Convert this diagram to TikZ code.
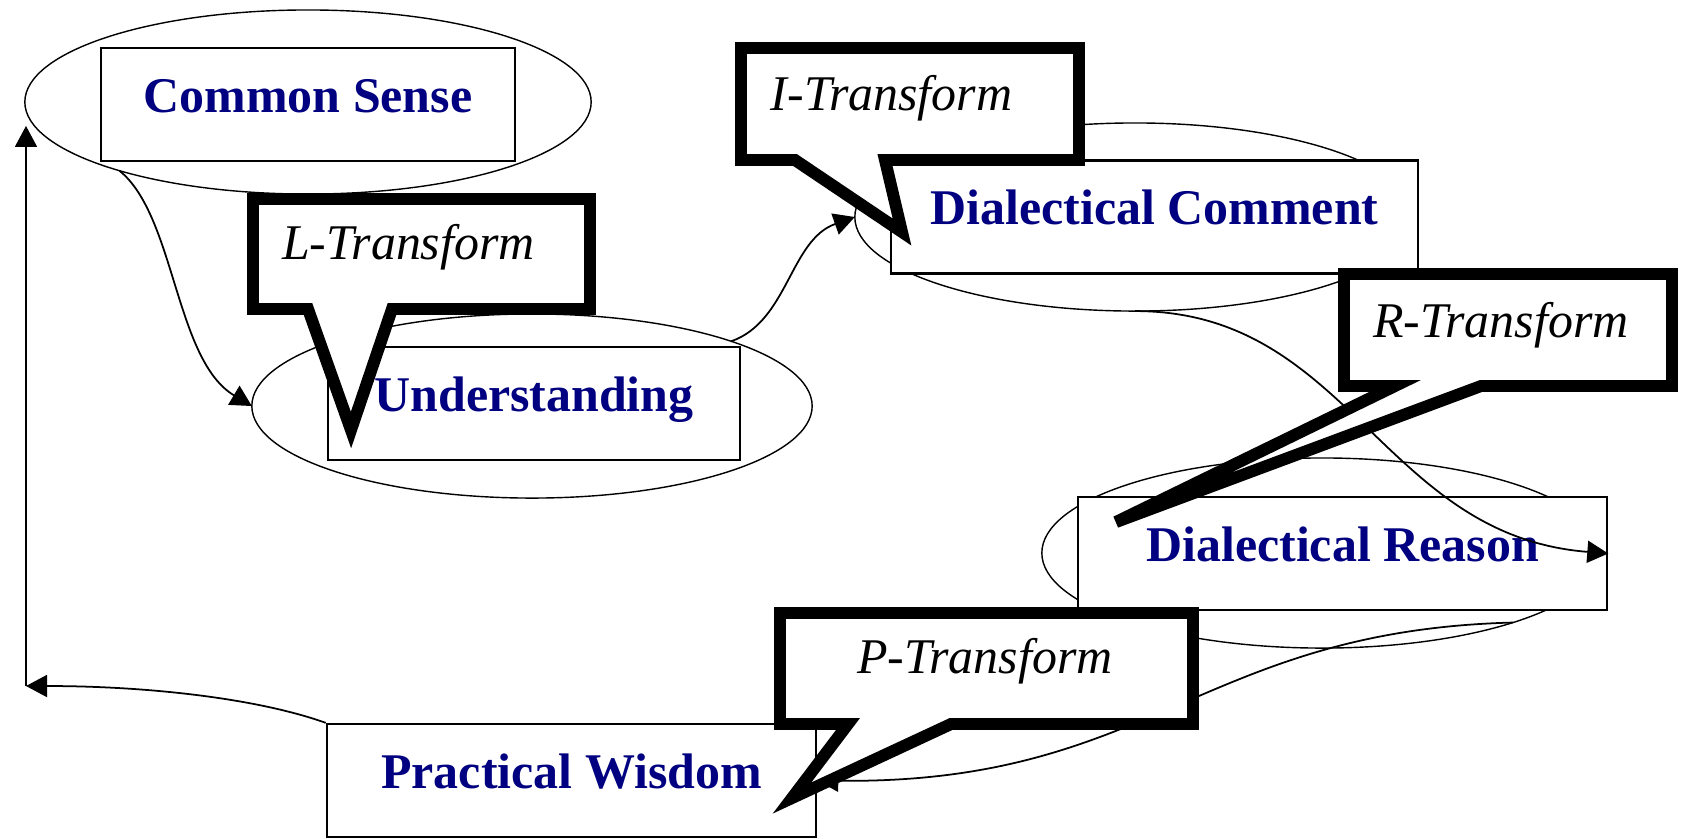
\documentclass[tikz,border=0pt]{standalone}
\usepackage{fontspec}
\setmainfont{Liberation Serif}
\usetikzlibrary{arrows.meta,shapes.geometric}
\definecolor{labelblue}{RGB}{0,0,128}

\begin{document}
\begin{tikzpicture}[x=0.01cm,y=-0.01cm,>={Triangle[length=0.21cm,width=0.22cm]},
  oval/.style={ellipse,draw,line width=0.4pt,inner sep=0pt,outer sep=0pt},
  stage/.style={rectangle,draw,line width=0.65pt,fill=white,inner sep=0pt,text=labelblue,font=\fontsize{14.2pt}{17pt}\selectfont\bfseries,text height=0.35cm,text depth=0.2cm,minimum height=1.13cm},
  flow/.style={->,line width=0.5pt},
  bubble/.style={draw,line width=3.4pt,fill=white,line join=miter},
  bubble text/.style={anchor=base,inner sep=0pt,font=\fontsize{14.2pt}{17pt}\selectfont\itshape}]
  \useasboundingbox (0,0) rectangle (1681,838);

  \node[oval,minimum width=5.66cm,minimum height=1.84cm] (csE) at (308,102) {};
  \node[oval,minimum width=5.6cm,minimum height=1.84cm] (uE) at (532,406) {};
  \node[oval,minimum width=5.6cm,minimum height=1.88cm] (dcE) at (1135,217) {};
  \node[oval,minimum width=5.6cm,minimum height=1.9cm] (drE) at (1322,553) {};

  \node[stage,minimum width=4.14cm] (csB) at (308,104.5) {Common Sense};
  \node[stage,minimum width=4.12cm] (uB) at (534,403.5) {Understanding};
  \node[stage,minimum width=5.27cm] (dcB) at (1154.5,217) {Dialectical Comment};
  \node[stage,minimum width=5.29cm] (drB) at (1342.5,553.5) {Dialectical Reason};
  \node[stage,minimum width=4.89cm] (pwB) at (571.5,780.5) {Practical Wisdom};
  \coordinate (corner) at (26,686);

  \draw[flow] (csE.200) .. controls +(56,45) and +(-77,-46) .. (uE.west);
  \draw[flow] (uE.18) .. controls +(57,-20) and +(-65,23) .. (dcE.west);
  \draw[flow] (dcE.south) .. controls +(215,0) and +(-227,-18) .. (drB.east);
  \draw[flow] (drE.340) .. controls +(-313,8) and +(334,4) .. (pwB.east);
  \draw[flow] (pwB.north west) .. controls +(-67,-24) and +(124,0) .. (corner);
  \draw[flow] (corner) -- (corner |- csE.185);

  \path[bubble] (253,309) -- (253,199) -- (590,199) -- (590,309) -- (392,309) -- (351,430) -- (308,309) -- cycle;
  \path[bubble] (741,160) -- (741,48) -- (1079,48) -- (1079,160) -- (885,160) -- (902,232) -- (795,160) -- cycle;
  \path[bubble] (1344,386) -- (1344,274) -- (1672,274) -- (1672,386) -- (1481,386) -- (1116,522) -- (1395,386) -- cycle;
  \path[bubble] (780,724) -- (780,613) -- (1193,613) -- (1193,724) -- (951,724) -- (792,798) -- (848,724) -- cycle;

  \node[bubble text] (lT) at (408.5,259) {L-Transform};
  \node[bubble text] (iT) at (891.5,110) {I-Transform};
  \node[bubble text] (rT) at (1501,337) {R-Transform};
  \node[bubble text] (pT) at (985,673) {P-Transform};
\end{tikzpicture}
\end{document}
